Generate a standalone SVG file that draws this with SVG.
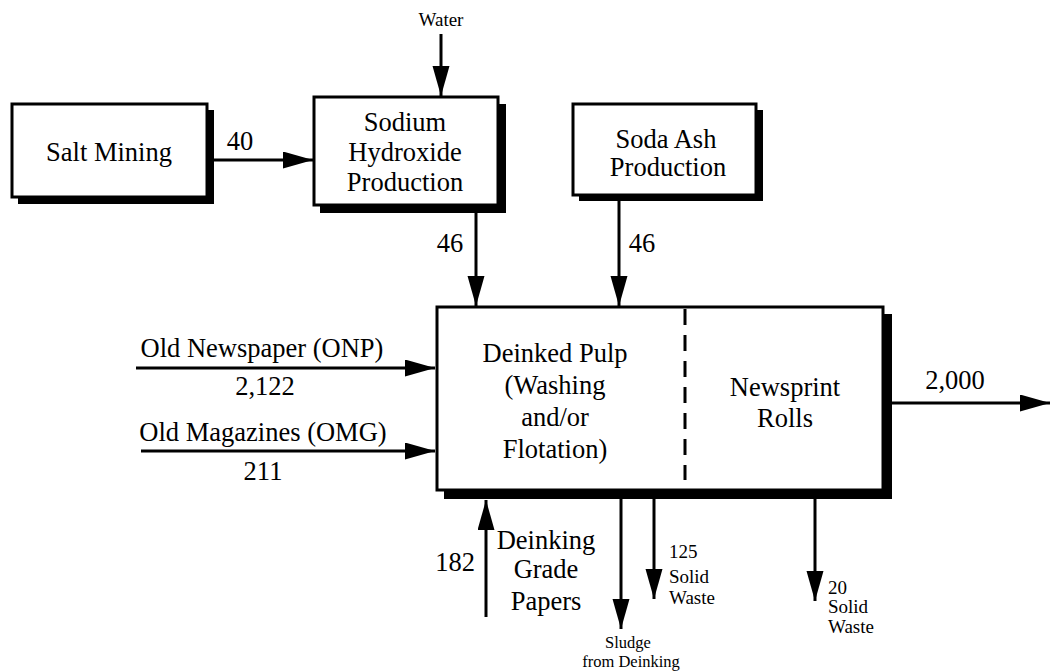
<svg xmlns="http://www.w3.org/2000/svg" width="1050" height="672" viewBox="0 0 1050 672">
<defs>
<marker id="ah" markerUnits="userSpaceOnUse" markerWidth="32" markerHeight="18" refX="30" refY="8.5" orient="auto">
<path d="M0,0 L30,8.5 L0,17 z" fill="#000"/>
</marker>
<style>
text{font-family:'Liberation Serif','DejaVu Serif',serif;fill:#000}
.t{font-size:26.5px;text-anchor:middle}
.s{font-size:19px}
.u{font-size:16.5px;text-anchor:middle}
.box{fill:#fff;stroke:#000;stroke-width:3}
.sh{fill:#000}
.ln{stroke:#000;stroke-width:3;fill:none;marker-end:url(#ah)}
</style>
</defs>
<rect width="1050" height="672" fill="#fff"/>
<g id="salt-mining">
<rect class="sh" x="18" y="110" width="196" height="94"/>
<rect class="box" x="12" y="104" width="195" height="93"/>
<text class="t" x="109" y="161">Salt Mining</text>
</g>
<g id="sodium-hydroxide">
<rect class="sh" x="320" y="104" width="186" height="109"/>
<rect class="box" x="314" y="97" width="184" height="108"/>
<text class="t" x="405" y="131">Sodium</text>
<text class="t" x="405" y="161">Hydroxide</text>
<text class="t" x="405" y="191">Production</text>
</g>
<g id="soda-ash">
<rect class="sh" x="579" y="110" width="184" height="91"/>
<rect class="box" x="573" y="104" width="183" height="91"/>
<text class="t" x="666" y="148">Soda Ash</text>
<text class="t" x="668" y="176">Production</text>
</g>
<g id="deinked-pulp-newsprint">
<rect class="sh" x="444" y="314" width="448" height="185"/>
<rect class="box" x="437" y="307" width="446" height="183"/>
<line x1="685" y1="309" x2="685" y2="480" stroke="#000" stroke-width="3" stroke-dasharray="16,10"/>
<text class="t" x="555" y="362">Deinked Pulp</text>
<text class="t" x="555" y="394">(Washing</text>
<text class="t" x="555" y="426">and/or</text>
<text class="t" x="555" y="458">Flotation)</text>
<text class="t" x="785" y="396">Newsprint</text>
<text class="t" x="785" y="427">Rolls</text>
</g>
<g id="connectors">
<line class="ln" x1="441" y1="34" x2="441" y2="96"/>
<text class="s" x="441" y="26" text-anchor="middle">Water</text>
<line class="ln" x1="214" y1="160" x2="313" y2="160"/>
<text class="t" x="240" y="150">40</text>
<line class="ln" x1="476" y1="213" x2="476" y2="306"/>
<text class="t" x="450" y="252">46</text>
<line class="ln" x1="619" y1="201" x2="619" y2="306"/>
<text class="t" x="642" y="252">46</text>
<line class="ln" x1="136" y1="368" x2="435" y2="368"/>
<text class="t" x="262" y="357">Old Newspaper (ONP)</text>
<text class="t" x="265" y="395">2,122</text>
<line class="ln" x1="141" y1="451" x2="435" y2="451"/>
<text class="t" x="263" y="441">Old Magazines (OMG)</text>
<text class="t" x="263" y="480">211</text>
<line class="ln" x1="892" y1="403" x2="1050" y2="403"/>
<text class="t" x="955" y="389">2,000</text>
<line class="ln" x1="486" y1="617" x2="486" y2="500"/>
<text class="t" x="455" y="571">182</text>
<text class="t" x="546" y="549">Deinking</text>
<text class="t" x="546" y="578">Grade</text>
<text class="t" x="546" y="610">Papers</text>
<line class="ln" x1="621" y1="499" x2="621" y2="629"/>
<text class="u" x="628" y="648">Sludge</text>
<text class="u" x="631" y="667">from Deinking</text>
<line class="ln" x1="654" y1="499" x2="654" y2="599"/>
<text class="s" x="669" y="558">125</text>
<text class="s" x="669" y="583">Solid</text>
<text class="s" x="669" y="604">Waste</text>
<line class="ln" x1="815" y1="499" x2="815" y2="601"/>
<text class="s" x="828" y="594">20</text>
<text class="s" x="828" y="613">Solid</text>
<text class="s" x="828" y="633">Waste</text>
</g>
</svg>
